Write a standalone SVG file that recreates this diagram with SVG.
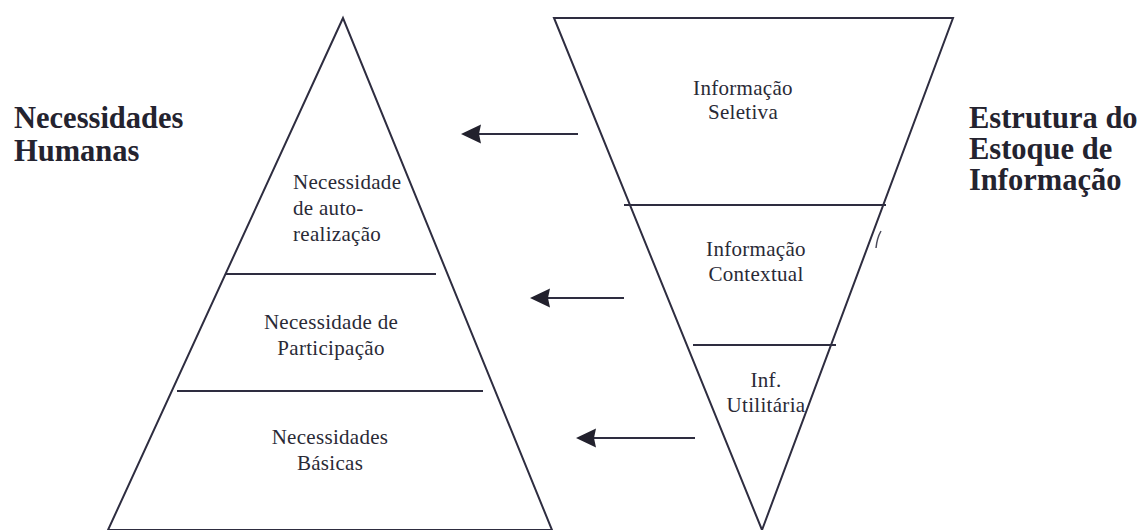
<svg xmlns="http://www.w3.org/2000/svg" width="1146" height="530" viewBox="0 0 1146 530">
  <defs>
    <style>
      .shape { fill: none; stroke: #2e2d40; stroke-width: 2; stroke-linejoin: miter; }
      .div { stroke: #2e2d40; stroke-width: 2; }
      .lbl { font-family: "Liberation Serif", "Times New Roman", serif; font-size: 21px; fill: #2a2a36; letter-spacing: 0.3px; }
      .ttl { font-family: "Liberation Serif", "Times New Roman", serif; font-size: 30.5px; font-weight: bold; fill: #24232f; }
      .arrow { stroke: #2e2d40; stroke-width: 2; fill: none; }
    </style>
    <marker id="ah" viewBox="0 0 20 20" refX="18" refY="10" markerWidth="20" markerHeight="20" markerUnits="userSpaceOnUse" orient="auto">
      <path d="M20,10 L0,0.5 L2,10 L0,19.5 Z" fill="#22212d"/>
    </marker>
  </defs>
  <rect width="1146" height="530" fill="#ffffff"/>

  <g id="title-necessidades">
    <text class="ttl" x="14" y="128">Necessidades</text>
    <text class="ttl" x="14" y="161">Humanas</text>
  </g>

  <g id="title-estrutura">
    <text class="ttl" x="969" y="128">Estrutura do</text>
    <text class="ttl" x="969" y="159">Estoque de</text>
    <text class="ttl" x="969" y="190">Informação</text>
  </g>

  <g id="pyramid">
    <polygon class="shape" points="343,18 108,530 552,530"/>
    <line class="div" x1="226" y1="274" x2="436" y2="274"/>
    <line class="div" x1="177" y1="391" x2="483" y2="391"/>
  </g>

  <g id="node-autorealizacao">
    <text class="lbl" x="293" y="189">Necessidade</text>
    <text class="lbl" x="293" y="215">de auto-</text>
    <text class="lbl" x="293" y="241">realização</text>
  </g>

  <g id="node-participacao">
    <text class="lbl" x="331" y="329" text-anchor="middle">Necessidade de</text>
    <text class="lbl" x="331" y="355" text-anchor="middle">Participação</text>
  </g>

  <g id="node-basicas">
    <text class="lbl" x="330" y="444" text-anchor="middle">Necessidades</text>
    <text class="lbl" x="330" y="470" text-anchor="middle">Básicas</text>
  </g>

  <g id="funnel">
    <polygon class="shape" points="554,18 953,18 762,530"/>
    <line class="div" x1="624" y1="205" x2="886" y2="205"/>
    <line class="div" x1="693" y1="345" x2="836" y2="345"/>
    <path d="M881,231 Q877,238 876,248" fill="none" stroke="#4a4a5a" stroke-width="1.5"/>
  </g>

  <g id="node-seletiva">
    <text class="lbl" x="743" y="95" text-anchor="middle">Informação</text>
    <text class="lbl" x="743" y="119" text-anchor="middle">Seletiva</text>
  </g>

  <g id="node-contextual">
    <text class="lbl" x="756" y="256" text-anchor="middle">Informação</text>
    <text class="lbl" x="756" y="281" text-anchor="middle">Contextual</text>
  </g>

  <g id="node-utilitaria">
    <text class="lbl" x="766" y="387" text-anchor="middle">Inf.</text>
    <text class="lbl" x="766" y="412" text-anchor="middle">Utilitária</text>
  </g>

  <g id="connectors">
    <line class="arrow" x1="578" y1="134" x2="463" y2="134" marker-end="url(#ah)"/>
    <line class="arrow" x1="624" y1="298" x2="532" y2="298" marker-end="url(#ah)"/>
    <line class="arrow" x1="695" y1="438" x2="578" y2="438" marker-end="url(#ah)"/>
  </g>
</svg>
